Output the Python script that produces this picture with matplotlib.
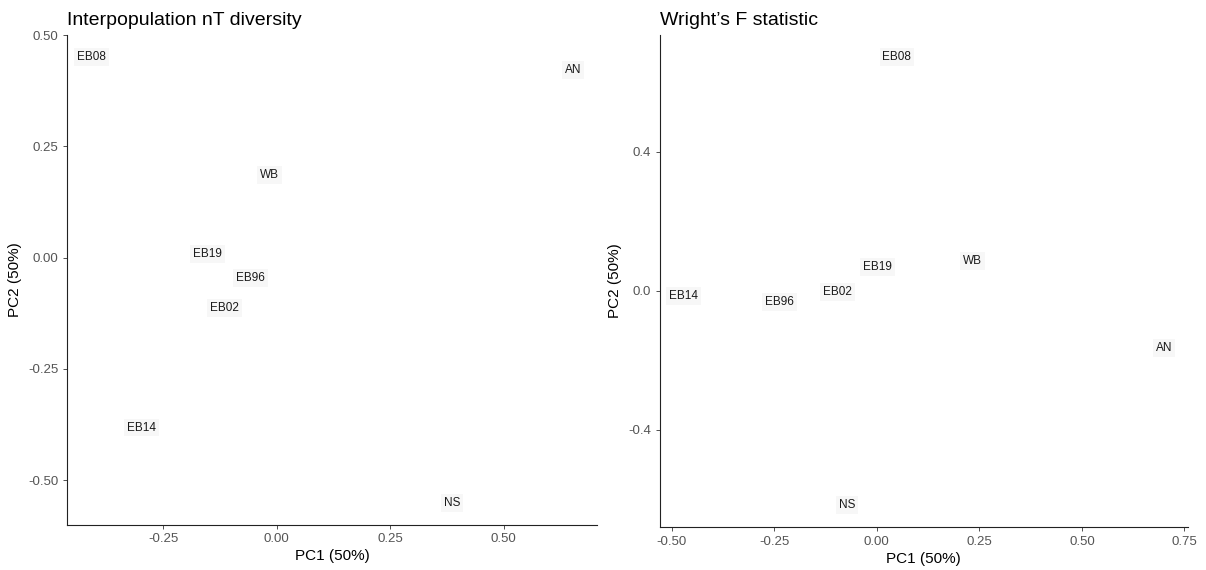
import matplotlib
matplotlib.use("Agg")
import matplotlib.pyplot as plt
from matplotlib.ticker import FixedLocator, FormatStrFormatter

plt.rcParams['font.family'] = ['Liberation Sans', 'DejaVu Sans']
plt.rcParams['axes.unicode_minus'] = False

populations_nt = ['EB08', 'AN', 'WB', 'EB19', 'EB96', 'EB02', 'EB14', 'NS']
pc1_nt = [-0.409, 0.653, -0.015, -0.153, -0.058, -0.115, -0.299, 0.387]
pc2_nt = [0.451, 0.422, 0.185, 0.009, -0.045, -0.114, -0.382, -0.551]

populations_fst = ['EB08', 'WB', 'EB19', 'EB02', 'EB14', 'EB96', 'AN', 'NS']
pc1_fst = [0.049, 0.234, 0.002, -0.095, -0.471, -0.237, 0.700, -0.073]
pc2_fst = [0.673, 0.086, 0.069, -0.003, -0.014, -0.032, -0.164, -0.616]

xticks_nt = [-0.25, 0.0, 0.25, 0.5]
yticks_nt = [-0.5, -0.25, 0.0, 0.25, 0.5]
xticks_fst = [-0.5, -0.25, 0.0, 0.25, 0.5, 0.75]
yticks_fst = [-0.4, 0.0, 0.4]


def expanded(values, frac=0.05):
    lo, hi = min(values), max(values)
    pad = (hi - lo) * frac
    return lo - pad, hi + pad


def pca_panel(ax, names, xs, ys, title, xticks, yticks, yfmt):
    for name, x, y in zip(names, xs, ys):
        ax.text(x, y, name, ha='center', va='center', fontsize=8.5, color='#1a1a1a',
                bbox=dict(boxstyle='square,pad=0.25', facecolor='#f7f7f7', edgecolor='none'))
    ax.set_xlim(*expanded(xs))
    ax.set_ylim(*expanded(ys))
    ax.xaxis.set_major_locator(FixedLocator(xticks))
    ax.yaxis.set_major_locator(FixedLocator(yticks))
    ax.xaxis.set_major_formatter(FormatStrFormatter('%.2f'))
    ax.yaxis.set_major_formatter(FormatStrFormatter(yfmt))
    ax.tick_params(length=3, width=0.6, color='#333333', labelsize=9.5,
                   labelcolor='#555555', pad=3)
    for side in ['top', 'right']:
        ax.spines[side].set_visible(False)
    for side in ['left', 'bottom']:
        ax.spines[side].set_linewidth(0.8)
        ax.spines[side].set_color('#222222')
    ax.set_xlabel('PC1 (50%)', fontsize=11, labelpad=3)
    ax.set_ylabel('PC2 (50%)', fontsize=11, labelpad=5)
    ax.set_title(title, loc='left', fontsize=14, pad=7)


fig = plt.figure(figsize=(12.06, 5.70), dpi=100)
ax1 = fig.add_axes([0.0556, 0.079, 0.4395, 0.860])
ax2 = fig.add_axes([0.547, 0.075, 0.438, 0.864])

pca_panel(ax1, populations_nt, pc1_nt, pc2_nt, 'Interpopulation nT diversity',
          xticks_nt, yticks_nt, '%.2f')
pca_panel(ax2, populations_fst, pc1_fst, pc2_fst, 'Wright\u2019s F statistic',
          xticks_fst, yticks_fst, '%.1f')

fig.savefig('out.png', dpi=100)
